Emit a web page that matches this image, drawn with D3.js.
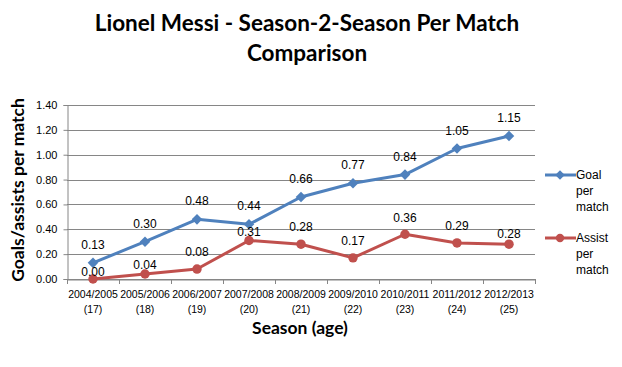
<!DOCTYPE html>
<html>
<head>
<meta charset="utf-8">
<script src="https://cdn.jsdelivr.net/npm/d3@7"></script>
<style>
  body { margin: 0; background: #fff; }
  svg { display: block; }
</style>
</head>
<body>
<svg id="chart" width="622" height="367"></svg>
<script>
const seasons = ["2004/2005", "2005/2006", "2006/2007", "2007/2008", "2008/2009",
  "2009/2010", "2010/2011", "2011/2012", "2012/2013"];
const ages = ["(17)", "(18)", "(19)", "(20)", "(21)", "(22)", "(23)", "(24)", "(25)"];
const goalsPerMatch = [0.13, 0.30, 0.48, 0.44, 0.66, 0.77, 0.84, 1.05, 1.15];
const assistsPerMatch = [0.00, 0.04, 0.08, 0.31, 0.28, 0.17, 0.36, 0.29, 0.28];
const yTicks = [0, 0.2, 0.4, 0.6, 0.8, 1.0, 1.2, 1.4];

// label nudges (Excel moved some of them around)
const assistLabelDy = [-7, -9, -17, -8, -17, -17, -16, -17, -10];

const blue = "#4f81bd";
const red = "#c0504d";

const svg = d3.select("#chart");
const plotLeft = 67, plotRight = 535, plotTop = 105, plotBottom = 279;

const x = d3.scaleBand().domain(seasons).range([plotLeft, plotRight]);
const y = d3.scaleLinear().domain([0, 1.4]).range([plotBottom, plotTop]);

// title
const title = svg.append("text")
  .attr("x", 307)
  .attr("text-anchor", "middle")
  .style("font-family", "Lato, sans-serif")
  .style("font-weight", "bold")
  .style("font-size", "22.5px")
  .attr("fill", "#000");
title.append("tspan").attr("x", 307).attr("y", 31).text("Lionel Messi - Season-2-Season Per Match");
title.append("tspan").attr("x", 307).attr("y", 61).text("Comparison");

// grid
svg.append("g")
  .selectAll("line")
  .data(yTicks)
  .join("line")
  .attr("x1", plotLeft)
  .attr("x2", plotRight)
  .attr("y1", (d) => Math.round(y(d)) + 0.5)
  .attr("y2", (d) => Math.round(y(d)) + 0.5)
  .attr("stroke", "#868686")
  .attr("stroke-width", 1);

// y axis
const yAxis = svg.append("g")
  .attr("transform", `translate(${plotLeft + 0.5},0)`)
  .call(d3.axisLeft(y).tickValues(yTicks).tickFormat(d3.format(".2f")).tickSize(4).tickPadding(6));
yAxis.select(".domain").attr("stroke", "#868686");
yAxis.selectAll(".tick line").attr("stroke", "#868686");
yAxis.selectAll(".tick text")
  .style("font-family", "'Liberation Sans', Arial, sans-serif")
  .style("font-size", "11px")
  .attr("fill", "#000");

// x axis
const xAxis = svg.append("g")
  .attr("transform", `translate(0,${plotBottom + 0.5})`)
  .call(d3.axisBottom(x).tickSize(0).tickFormat(""));
xAxis.select(".domain").attr("stroke", "#868686");
svg.append("g")
  .selectAll("line")
  .data(seasons.map((s) => x(s)).concat([plotRight]))
  .join("line")
  .attr("x1", (d) => Math.round(d) + 0.5)
  .attr("x2", (d) => Math.round(d) + 0.5)
  .attr("y1", plotBottom)
  .attr("y2", plotBottom + 5)
  .attr("stroke", "#868686");

const xl = svg.append("g")
  .selectAll("text")
  .data(seasons)
  .join("text")
  .attr("text-anchor", "middle")
  .style("font-family", "'Liberation Sans', Arial, sans-serif")
  .style("font-size", "10.5px")
  .attr("fill", "#000");
xl.append("tspan")
  .attr("x", (d) => x(d) + x.bandwidth() / 2)
  .attr("y", plotBottom + 19)
  .text((d) => d);
xl.append("tspan")
  .attr("x", (d) => x(d) + x.bandwidth() / 2)
  .attr("y", plotBottom + 34)
  .text((d, i) => ages[i]);

// axis titles
svg.append("text")
  .attr("x", 300)
  .attr("y", 334)
  .attr("text-anchor", "middle")
  .style("font-family", "Lato, sans-serif")
  .style("font-weight", "bold")
  .style("font-size", "17.5px")
  .text("Season (age)");

svg.append("text")
  .attr("transform", "translate(24,190) rotate(-90)")
  .attr("text-anchor", "middle")
  .style("font-family", "Lato, sans-serif")
  .style("font-weight", "bold")
  .style("font-size", "17.5px")
  .text("Goals/assists per match");

const cx = (i) => x(seasons[i]) + x.bandwidth() / 2;

const line = d3.line()
  .x((d, i) => cx(i))
  .y((d) => y(d));

// excel-style diamond = square turned 45deg
function marker(shape, size) {
  return d3.symbol().type(shape).size(size)();
}

function drawSeries(values, color, shape, rot, labelDy) {
  svg.append("path")
    .datum(values)
    .attr("d", line)
    .attr("fill", "none")
    .attr("stroke", color)
    .attr("stroke-width", 3)
    .attr("stroke-linejoin", "round");

  svg.append("g")
    .selectAll("path")
    .data(values)
    .join("path")
    .attr("transform", (d, i) => `translate(${cx(i)},${y(d)}) rotate(${rot})`)
    .attr("d", marker(shape, rot ? 56 : 70))
    .attr("fill", color);

  svg.append("g")
    .selectAll("text")
    .data(values)
    .join("text")
    .attr("x", (d, i) => cx(i))
    .attr("y", (d, i) => y(d) + labelDy(i) + 4)
    .attr("text-anchor", "middle")
    .style("font-family", "'Liberation Sans', Arial, sans-serif")
    .style("font-size", "12px")
    .attr("fill", "#000")
    .text((d) => d3.format(".2f")(d));
}

drawSeries(goalsPerMatch, blue, d3.symbolSquare, 45, () => -18);
drawSeries(assistsPerMatch, red, d3.symbolCircle, 0, (i) => assistLabelDy[i]);

// legend
const legendItems = [
  { color: blue, shape: d3.symbolSquare, rot: 45, lines: ["Goal", "per", "match"], y: 175 },
  { color: red, shape: d3.symbolCircle, rot: 0, lines: ["Assist", "per", "match"], y: 238 },
];
const lg = svg.append("g")
  .selectAll("g")
  .data(legendItems)
  .join("g");
lg.append("line")
  .attr("x1", 545)
  .attr("x2", 576)
  .attr("y1", (d) => d.y)
  .attr("y2", (d) => d.y)
  .attr("stroke", (d) => d.color)
  .attr("stroke-width", 3);
lg.append("path")
  .attr("transform", (d) => `translate(560,${d.y}) rotate(${d.rot})`)
  .attr("d", (d) => marker(d.shape, d.rot ? 45 : 55))
  .attr("fill", (d) => d.color);
lg.append("text")
  .style("font-family", "'Liberation Sans', Arial, sans-serif")
  .style("font-size", "12px")
  .attr("fill", "#000")
  .selectAll("tspan")
  .data((d) => d.lines.map((t, i) => ({ t, y: d.y + 4 + i * 16 })))
  .join("tspan")
  .attr("x", 576)
  .attr("y", (d) => d.y)
  .text((d) => d.t);
</script>
</body>
</html>
